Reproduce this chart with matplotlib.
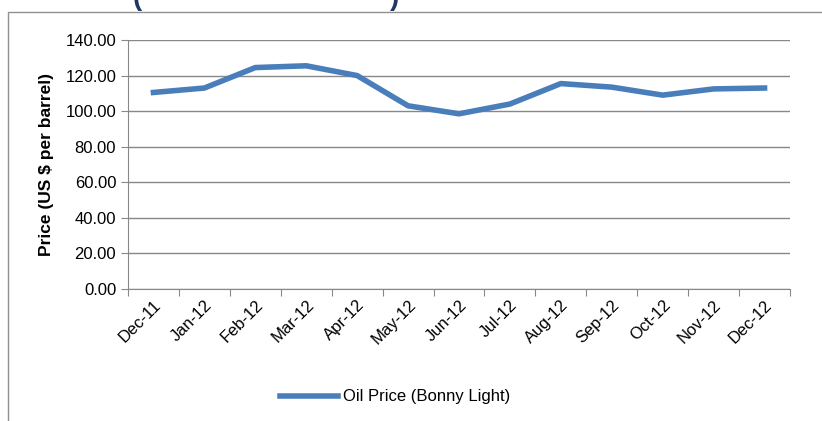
import matplotlib.pyplot as plt
from matplotlib.patches import Rectangle

months = ["Dec-11", "Jan-12", "Feb-12", "Mar-12", "Apr-12", "May-12", "Jun-12",
          "Jul-12", "Aug-12", "Sep-12", "Oct-12", "Nov-12", "Dec-12"]
prices = [110.5, 113.0, 124.5, 125.5, 120.0, 103.0, 98.5,
          104.0, 115.5, 113.5, 109.0, 112.5, 113.0]

W, H = 822, 421
fig = plt.figure(figsize=(W / 100, H / 100), dpi=100)
plt.rcParams['font.family'] = ['Liberation Sans', 'DejaVu Sans']

# outer chart frame
fig.patches.append(Rectangle((8 / W, -0.01), 1.0, 1 - 8 / H, transform=fig.transFigure,
                             fill=False, edgecolor='#909090', lw=1))
# clipped title remnants
fig.text(137 / W, 1 + 2 / H, "(", fontsize=20, fontweight='bold', color='#1f3864', va='center', ha='center')
fig.text(395 / W, 1 + 2 / H, ")", fontsize=20, fontweight='bold', color='#1f3864', va='center', ha='center')

ax = fig.add_axes([128 / W, 1 - 289 / H, (790 - 128) / W, (289 - 40) / H])
x = range(len(months))
ax.plot(x, prices, color='#4a7ebb', lw=4, solid_joinstyle='round', label="Oil Price (Bonny Light)")
ax.set_xlim(-0.5, len(months) - 0.5)
ax.set_ylim(0, 140)
ax.set_yticks(range(0, 141, 20))
ax.set_yticklabels([f"{v:.2f}" for v in range(0, 141, 20)], fontsize=12)
ax.set_xticks([i - 0.5 for i in range(len(months) + 1)], minor=False)
ax.set_xticklabels([])
ax.set_xticks(list(x), minor=True)
ax.set_xticklabels(months, minor=True, rotation=45, ha='right', rotation_mode='anchor', fontsize=12)
ax.tick_params(axis='x', which='minor', length=0, pad=6)
ax.tick_params(axis='x', which='major', length=5, color='#888888')
ax.tick_params(axis='y', length=5, color='#888888')
ax.grid(axis='y', color='#888888', lw=1)
for s in ['top', 'right']:
    ax.spines[s].set_visible(False)
for s in ['left', 'bottom']:
    ax.spines[s].set_color('#888888')
ax.set_ylabel("Price (US $ per barrel)", fontsize=12.5, fontweight='bold', labelpad=8)
ax.legend(loc='center', bbox_to_anchor=(395 / W, 1 - 397 / H), bbox_transform=fig.transFigure,
          frameon=False, fontsize=12, handlelength=3.5, handletextpad=0.3)

fig.savefig("out.png", dpi=100)
